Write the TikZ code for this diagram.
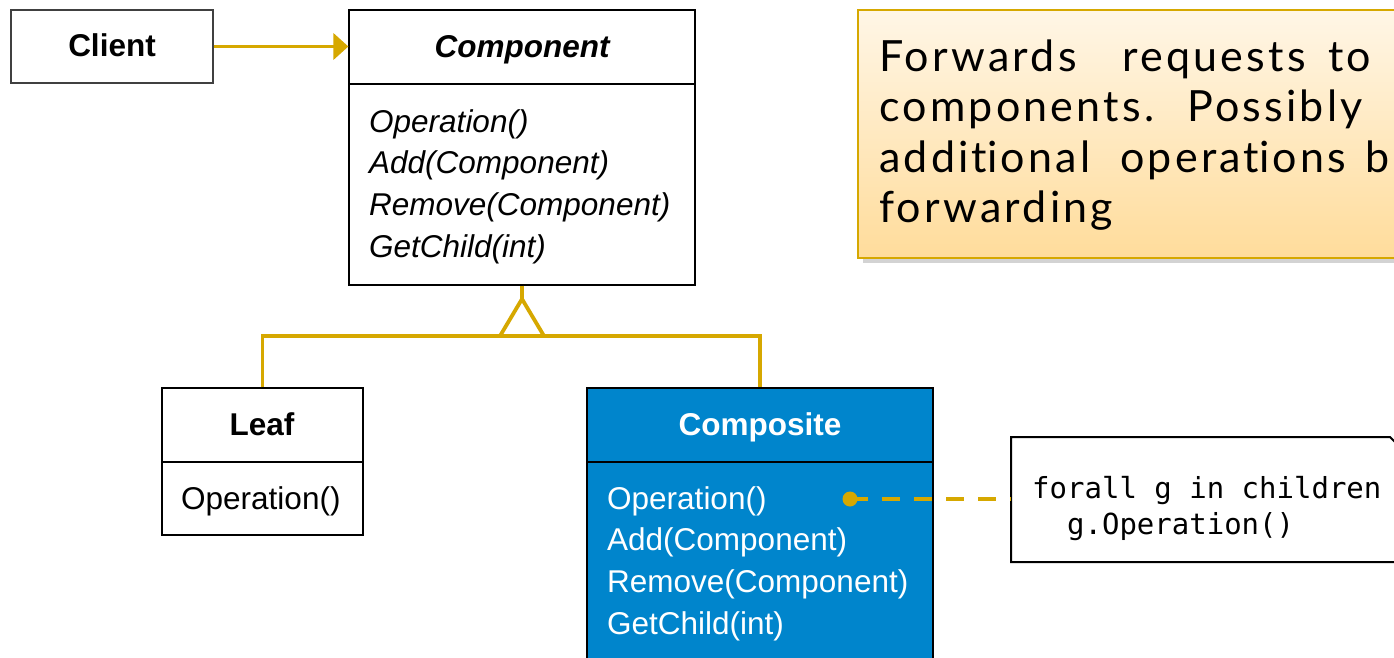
\documentclass[tikz,border=0pt]{standalone}
\usepackage{fontspec}
\setmainfont{Liberation Sans}
\setmonofont{DejaVu Sans Mono}
\newfontfamily\notefont[LetterSpace=7.5,Ligatures={NoCommon,NoContextual},Contextuals=NoAlternate]{Lato}
\usetikzlibrary{arrows.meta,shadows}
\definecolor{gold}{RGB}{214,168,0}
\definecolor{compblue}{RGB}{0,133,204}
\definecolor{notetop}{RGB}{255,246,230}
\definecolor{notebot}{RGB}{255,220,155}
\begin{document}
\begin{tikzpicture}[x=1pt,y=-1pt,
  classbox/.style={draw=black, line width=1.2pt, rectangle, inner sep=0pt, fill=white},
  divider/.style={draw=black, line width=1.2pt},
  title/.style={font=\fontsize{31.5}{36}\selectfont\bfseries, anchor=base, inner sep=0pt},
  item/.style={font=\fontsize{31.5}{36}\selectfont, anchor=base west, inner sep=0pt},
  link/.style={draw=gold, line width=3.8pt},
  mono/.style={font=\fontsize{29}{34}\ttfamily, anchor=base west, inner sep=0pt},
  noteword/.style={font=\notefont\fontsize{43}{50}\selectfont, anchor=base west, inner sep=0pt}]
\useasboundingbox (0,0) rectangle (1394,658);
\clip (0,0) rectangle (1394,658);

% Client
\node[classbox, draw=black!75, minimum width=202pt, minimum height=73pt] (client) at (112,46.5) {};
\node[title] (clientname) at (112,57) {Client};

% Component
\node[classbox, minimum width=346pt, minimum height=275pt] (component) at (522,147.5) {};
\coordinate (compdiv) at (522,84);
\draw[divider] (component.west |- compdiv) -- (component.east |- compdiv);
\node[title, font=\fontsize{31.5}{36}\selectfont\bfseries\itshape] (compname) at (522,58) {Component};
\node[item, font=\fontsize{31.5}{36}\selectfont\itshape] (c1) at (369,132) {Operation()};
\node[item, font=\fontsize{31.5}{36}\selectfont\itshape] (c2) at (369,173) {Add(Component)};
\node[item, font=\fontsize{31.5}{36}\selectfont\itshape] (c3) at (369,215) {Remove(Component)};
\node[item, font=\fontsize{31.5}{36}\selectfont\itshape] (c4) at (369,257) {GetChild(int)};

% Leaf
\node[classbox, minimum width=201pt, minimum height=147pt] (leaf) at (262.5,461.5) {};
\coordinate (leafdiv) at (262,462);
\draw[divider] (leaf.west |- leafdiv) -- (leaf.east |- leafdiv);
\node[title] (leafname) at (262,435) {Leaf};
\node[item] (l1) at (181,509) {Operation()};

% Composite
\node[classbox, fill=compblue, minimum width=346pt, minimum height=284pt] (composite) at (760,530) {};
\coordinate (compodiv) at (760,462);
\draw[divider] (composite.west |- compodiv) -- (composite.east |- compodiv);
\node[title, text=white] (componame) at (760,435) {Composite};
\node[item, text=white] (k1) at (607,509) {Operation()};
\node[item, text=white] (k2) at (607,550) {Add(Component)};
\node[item, text=white] (k3) at (607,592) {Remove(Component)};
\node[item, text=white] (k4) at (607,634) {GetChild(int)};

% association Client -> Component
\draw[link, -{Triangle[length=15pt,width=26pt]}] (client.east) -- (component.west |- client.east);

% generalization
\coordinate (apex) at (522,299);
\coordinate (bar) at (522,336);
\draw[link] (component.south) -- (apex);
\draw[link] (leaf.north) |- (composite.north |- bar) -- (composite.north);
\draw[link, fill=white, line join=miter] (apex) -- (544,336) -- (500,336) -- cycle;

% note with folded corner
\draw[line width=2pt, fill=white] (1011,437) -- (1390,437) -- (1410,457) -- (1410,562) -- (1011,562) -- cycle;
\coordinate (noteL) at (1011,499);
\node[mono] (n1) at (1032,498) {forall g in children};
\node[mono] (n2) at (1032,534) {\ \ g.Operation()};
\node[circle, fill=gold, inner sep=0pt, minimum size=15pt] (dot) at (850,499) {};
\draw[link, dash pattern=on 18pt off 14pt] (dot.center) -- (noteL);

% advice note
\node[draw=gold, line width=2pt, top color=notetop, bottom color=notebot,
      drop shadow={shadow xshift=5pt, shadow yshift=-5pt, opacity=0.35},
      minimum width=560pt, minimum height=248pt, inner sep=0pt] (advice) at (1138,134) {};
\node[noteword] (w1) at (879,72) {Forwards};
\node[noteword] (w2) at (1122,72) {requests};
\node[noteword] (w3) at (1328,72) {to};
\node[noteword] (w4) at (879,122) {components.};
\node[noteword] (w5) at (1187,122) {Possibly};
\node[noteword] (w6) at (879,172) {addit\kern0pt ional};
\node[noteword] (w7) at (1120,172) {operat\kern0pt ions};
\node[noteword] (w8) at (1365,172) {b};
\node[noteword] (w9) at (879,222) {forwarding};
\end{tikzpicture}
\end{document}
